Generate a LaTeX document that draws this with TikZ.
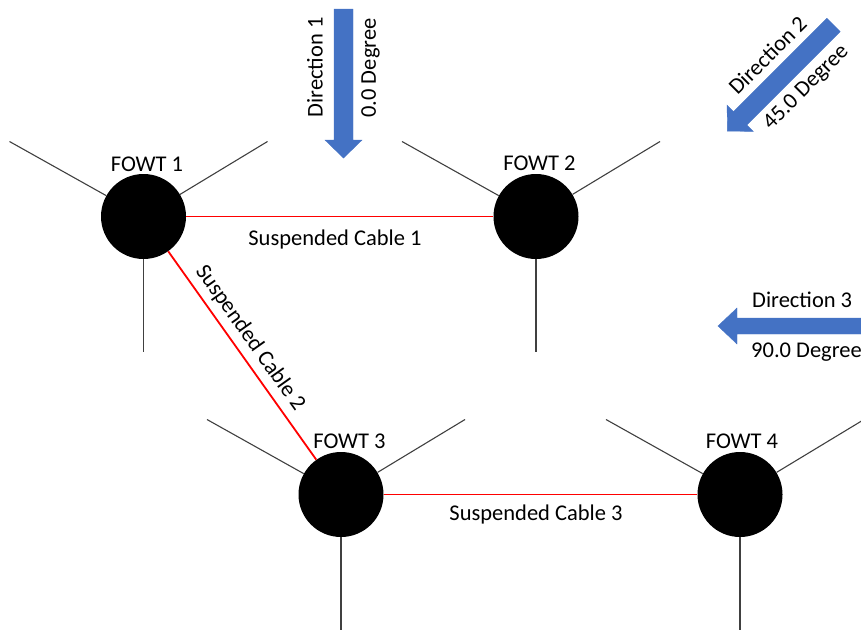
\documentclass[tikz,border=0pt]{standalone}
\usepackage{fontspec}
\setmainfont{Carlito}
\usetikzlibrary{calc}
\definecolor{arrowblue}{HTML}{4472C4}
\definecolor{cablered}{HTML}{FF0000}
\begin{document}
\begin{tikzpicture}[x=1pt,y=-1pt,
  fowt/.style={circle,fill=black,minimum size=85pt,inner sep=0pt},
  moor/.style={draw=black!75,line width=1.1pt},
  cable/.style={draw=cablered,line width=1.8pt},
  lbl/.style={font=\fontsize{22.5}{26}\selectfont,inner sep=0pt,text=black},
  windarrow/.style={fill=arrowblue,draw=arrowblue,line width=0.4pt}]
\clip (0,0) rectangle (861,632);
% turbines
\node[fowt] (f1) at (143.5,216.5) {};
\node[fowt] (f2) at (536,216.5) {};
\node[fowt] (f3) at (341,494.5) {};
\node[fowt] (f4) at (740,494.5) {};
% mooring lines
\foreach \f in {f1,f2,f3,f4}{
  \coordinate (\f ul) at ($(\f)+(-134,-75)$);
  \coordinate (\f ur) at ($(\f)+(124,-75)$);
  \coordinate (\f dn) at ($(\f)+(0,135)$);
  \draw[moor] (\f) -- (\f ul);
  \draw[moor] (\f) -- (\f ur);
  \draw[moor] (\f) -- (\f dn);
}
% cables
\draw[cable] (f1) -- (f2);
\draw[cable] (f1) -- node[lbl, sloped, pos=0.463, above=6pt] {Suspended Cable 2} (f3);
\draw[cable] (f3) -- (f4);
% labels
\node[lbl, anchor=base] (l1) at (147,171) {FOWT 1};
\node[lbl, anchor=base] (l2) at (539.5,170) {FOWT 2};
\node[lbl, anchor=base] (l3) at (349.5,448) {FOWT 3};
\node[lbl, anchor=base] (l4) at (742,448) {FOWT 4};
\node[lbl, anchor=base] (c1) at (335,245) {Suspended Cable 1};
\node[lbl, anchor=base] (c3) at (536,520) {Suspended Cable 3};
% direction arrows
\fill[windarrow] (334,9) -- (353,9) -- (353,140) -- (362,140) -- (343.5,158) -- (325,140) -- (334,140) -- cycle;
\fill[windarrow] (826.8,18.3) -- (840.2,31.7) -- (746.9,125.0) -- (753.3,131.4) -- (727.4,131.1) -- (727.1,105.2) -- (733.5,111.6) -- cycle;
\fill[windarrow] (870,318) -- (737,318) -- (737,308) -- (718,326) -- (737,344) -- (737,334) -- (870,334) -- cycle;
\node[lbl, rotate=90] (d1a) at (315,67.5) {Direction 1};
\node[lbl, rotate=90] (d1b) at (370.5,68) {0.0 Degree};
\node[lbl, rotate=45] (d2a) at (767.5,55) {Direction 2};
\node[lbl, rotate=45] (d2b) at (806.5,87.5) {45.0 Degree};
\node[lbl, anchor=base west] (d3a) at (752,307) {Direction 3};
\node[lbl, anchor=base west] (d3b) at (751,357) {90.0 Degree};
\end{tikzpicture}
\end{document}
